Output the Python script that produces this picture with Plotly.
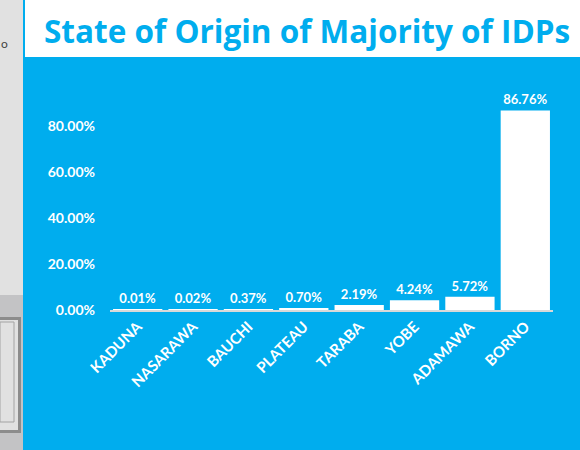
import plotly.graph_objects as go

states = ["KADUNA", "NASARAWA", "BAUCHI", "PLATEAU", "TARABA", "YOBE", "ADAMAWA", "BORNO"]
shares = [0.01, 0.02, 0.37, 0.70, 2.19, 4.24, 5.72, 86.76]
y_ticks = [0, 20, 40, 60, 80]
y_tick_labels = ["0.00%", "20.00%", "40.00%", "60.00%", "80.00%"]
title_text = "State of Origin of Majority of IDPs"

W, H = 580, 450
ML, MR, MT, MB = 110, 27, 80, 140
PW, PH = W - ML - MR, H - MT - MB
BLUE = "#00adee"
FONT = "Lato"


def px(x):
    return (x - ML) / PW


def py(y):
    return (H - MB - y) / PH


def rect(x0, y0, x1, y1, fill, line=None, lw=0):
    return dict(type="rect", xref="paper", yref="paper", layer="below",
                x0=px(x0), x1=px(x1), y0=py(y1), y1=py(y0),
                fillcolor=fill, line=dict(color=line or fill, width=lw))


fig = go.Figure(go.Bar(
    x=states, y=shares,
    marker=dict(color="white", line=dict(width=0)),
    texttemplate="%{y:.2f}%", textposition="outside",
    textfont=dict(color="white", size=13, family=FONT, weight="bold"),
    cliponaxis=False,
))

shapes = [
    rect(0, 0, 23, 450, "#e1e1e1"),
    rect(0, 295, 23, 450, "#c3c3c5"),
    rect(0, 317, 21, 433, "#8c8c8c"),
    rect(0, 320, 18, 430, "#e1e1e1"),
    rect(0, 322, 14, 422, "#e1e1e1", "#a3a3a3", 1),
    rect(23, 0, 580, 57, BLUE),
    rect(25, 0, 580, 57, "white"),
]

fig.update_layout(
    width=W, height=H,
    margin=dict(l=ML, r=MR, t=MT, b=MB),
    paper_bgcolor=BLUE, plot_bgcolor="rgba(0,0,0,0)",
    showlegend=False,
    bargap=0.11,
    shapes=shapes,
    font=dict(family=FONT, color="white"),
    annotations=[
        dict(text=title_text, xref="paper", yref="paper", x=px(307), y=py(31),
             xanchor="center", yanchor="middle", showarrow=False,
             font=dict(family="Open Sans", size=31.5, color=BLUE, weight="bold")),
        dict(text="o", xref="paper", yref="paper", x=px(-1), y=py(43),
             xanchor="left", yanchor="middle", showarrow=False,
             font=dict(family=FONT, size=12, color="#444")),
    ],
    xaxis=dict(showline=True, linecolor="#d9d9d9", linewidth=2, tickangle=-45,
               showgrid=False, zeroline=False,
               tickfont=dict(color="white", size=15, family=FONT, weight="bold")),
    yaxis=dict(range=[0, 100], tickvals=y_ticks, ticktext=y_tick_labels,
               showgrid=False, zeroline=False, showline=False,
               ticklabelstandoff=14,
               tickfont=dict(color="white", size=14, family=FONT, weight="bold")),
)

fig.write_html(
    "out.html",
    config={"displayModeBar": False},
    post_script="document.body.style.margin='0';document.body.style.overflow='hidden';",
)
